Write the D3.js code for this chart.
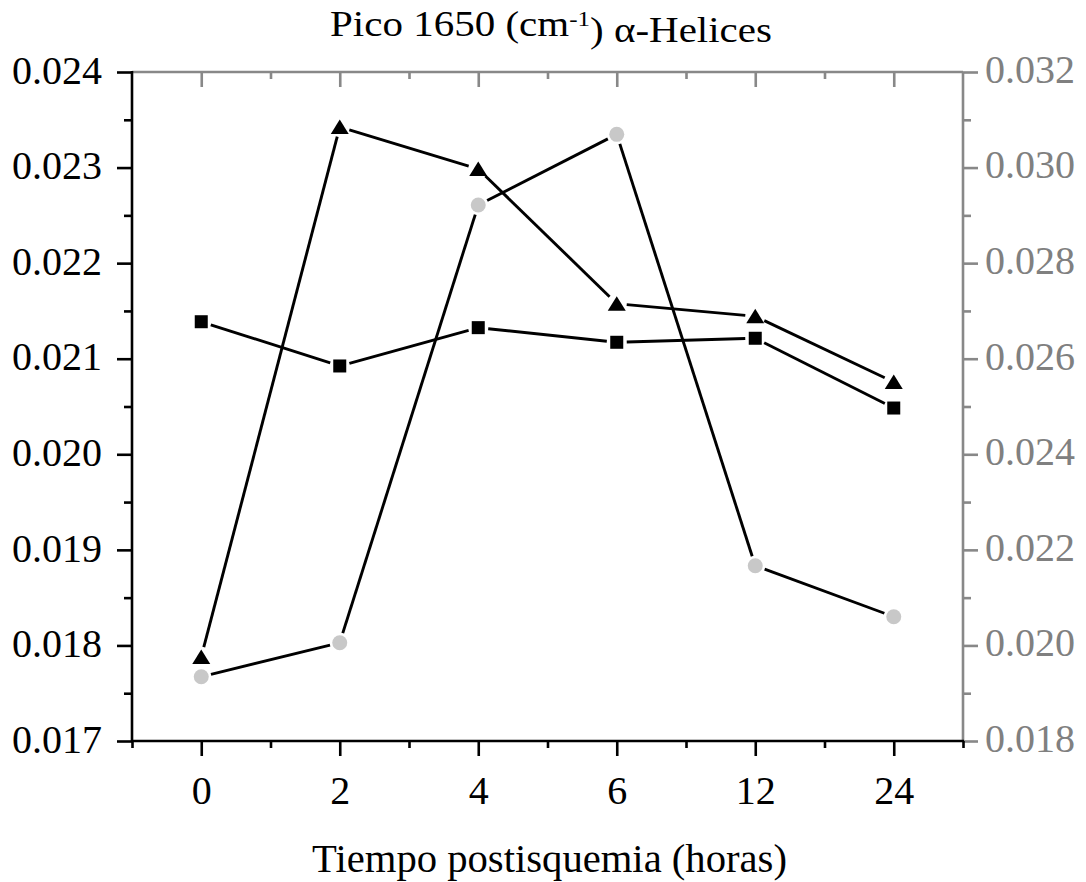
<!DOCTYPE html>
<html>
<head>
<meta charset="utf-8">
<script src="https://cdn.jsdelivr.net/npm/d3@7"></script>
<style>
  html, body { margin: 0; padding: 0; background: #fff; }
  svg { display: block; font-family: "Liberation Serif", "Times New Roman", serif; }
</style>
</head>
<body>
<svg id="chart" width="1086" height="882"></svg>
<script>
// Sampling times (hours after ischemia)
const categories = ["0", "2", "4", "6", "12", "24"];

// Left-axis series
const triangleValues = [0.01788, 0.023425, 0.022985, 0.021576, 0.021444, 0.020756];
const squareValues   = [0.021387, 0.020924, 0.021325, 0.021172, 0.021214, 0.020484];
// Right-axis series
const circleValues   = [0.019345, 0.020057, 0.029216, 0.030695, 0.021668, 0.020601];

// Axis ticks
const leftTicks  = [0.017, 0.018, 0.019, 0.020, 0.021, 0.022, 0.023, 0.024];
const rightTicks = [0.018, 0.020, 0.022, 0.024, 0.026, 0.028, 0.030, 0.032];

const titleText = "Pico 1650 (cm";
const xLabelText = "Tiempo postisquemia (horas)";

(function () {
  const svg = d3.select("#chart");
  const plotL = 132, plotR = 963, plotT = 72, plotB = 741;
  const black = "#000", grey = "#888888", greyText = "#808080", dotFill = "#c8c8c8";
  const axisW = 2.6, fontSize = 40;

  const x = d3.scaleLinear().domain([-0.5, categories.length - 0.5]).range([plotL, plotR]);
  const yL = d3.scaleLinear().domain([0.017, 0.024]).range([plotB, plotT]);
  const yR = d3.scaleLinear().domain([0.018, 0.032]).range([plotB, plotT]);

  const majorIdx = d3.range(categories.length);
  const minorIdx = d3.range(categories.length + 1).map(i => i - 0.5);

  function styleAxis(g, color) {
    g.select(".domain").remove();
    g.selectAll("line").attr("stroke", color).attr("stroke-width", axisW);
    g.selectAll("text").attr("fill", color === black ? black : greyText)
      .style("font-size", fontSize + "px").style("font-family", "'Liberation Serif', serif");
  }

  // Top axis (grey, inward ticks)
  svg.append("g").attr("transform", `translate(0,${plotT})`)
    .call(d3.axisBottom(x).tickValues(majorIdx).tickSize(15).tickFormat(""))
    .call(g => styleAxis(g, grey));
  svg.append("g").attr("transform", `translate(0,${plotT})`)
    .call(d3.axisBottom(x).tickValues(minorIdx.slice(1, -1)).tickSize(7).tickFormat(""))
    .call(g => styleAxis(g, grey));

  // Right axis (grey)
  const rMinor = d3.range(0.019, 0.032, 0.002);
  svg.append("g").attr("transform", `translate(${plotR},0)`)
    .call(d3.axisRight(yR).tickValues(rMinor).tickSize(8).tickFormat(""))
    .call(g => styleAxis(g, grey));
  svg.append("g").attr("transform", `translate(${plotR},0)`)
    .call(d3.axisRight(yR).tickValues(rightTicks).tickSize(15).tickPadding(7).tickFormat(d3.format(".3f")))
    .call(g => styleAxis(g, grey))
    .call(g => g.selectAll("text").attr("dy", "0.26em"));
  svg.append("line").attr("x1", plotR).attr("x2", plotR).attr("y1", plotT).attr("y2", plotB)
    .attr("stroke", grey).attr("stroke-width", axisW);
  svg.append("line").attr("x1", plotL).attr("x2", plotR).attr("y1", plotT).attr("y2", plotT)
    .attr("stroke", grey).attr("stroke-width", axisW);

  // Left axis (black)
  const lMinor = d3.range(0.0175, 0.024, 0.001);
  svg.append("g").attr("transform", `translate(${plotL},0)`)
    .call(d3.axisLeft(yL).tickValues(lMinor).tickSize(8).tickFormat(""))
    .call(g => styleAxis(g, black));
  svg.append("g").attr("transform", `translate(${plotL},0)`)
    .call(d3.axisLeft(yL).tickValues(leftTicks).tickSize(15).tickPadding(15).tickFormat(d3.format(".3f")))
    .call(g => styleAxis(g, black))
    .call(g => g.selectAll("text").attr("dy", "0.28em"));

  // Bottom axis (black)
  svg.append("g").attr("transform", `translate(0,${plotB})`)
    .call(d3.axisBottom(x).tickValues(minorIdx).tickSize(7).tickFormat(""))
    .call(g => styleAxis(g, black));
  svg.append("g").attr("transform", `translate(0,${plotB})`)
    .call(d3.axisBottom(x).tickValues(majorIdx).tickSize(15).tickPadding(20).tickFormat(i => categories[i]))
    .call(g => styleAxis(g, black));

  svg.append("line").attr("x1", plotL).attr("x2", plotL).attr("y1", plotT - 1).attr("y2", plotB + 1)
    .attr("stroke", black).attr("stroke-width", axisW);
  svg.append("line").attr("x1", plotL - 1).attr("x2", plotR + 1).attr("y1", plotB).attr("y2", plotB)
    .attr("stroke", black).attr("stroke-width", axisW);

  // Connecting lines, trimmed short of each marker
  const gap = 10;
  function drawSeries(values, yScale) {
    const pts = values.map((v, i) => [x(i), yScale(v)]);
    const segs = [];
    for (let i = 0; i < pts.length - 1; i++) {
      const [x0, y0] = pts[i], [x1, y1] = pts[i + 1];
      const len = Math.hypot(x1 - x0, y1 - y0);
      const ux = (x1 - x0) / len, uy = (y1 - y0) / len;
      segs.push([x0 + ux * gap, y0 + uy * gap, x1 - ux * gap, y1 - uy * gap]);
    }
    svg.append("g").selectAll("line").data(segs).join("line")
      .attr("x1", d => d[0]).attr("y1", d => d[1])
      .attr("x2", d => d[2]).attr("y2", d => d[3])
      .attr("stroke", black).attr("stroke-width", 2.9).attr("stroke-linecap", "butt");
    return pts;
  }

  const triPts = drawSeries(triangleValues, yL);
  const sqPts = drawSeries(squareValues, yL);
  const cirPts = drawSeries(circleValues, yR);

  // Markers
  svg.append("g").selectAll("rect").data(sqPts).join("rect")
    .attr("x", d => d[0] - 6.5).attr("y", d => d[1] - 6.5)
    .attr("width", 13).attr("height", 13).attr("fill", black);
  svg.append("g").selectAll("path").data(triPts).join("path")
    .attr("d", d => `M${d[0]},${d[1] - 7.5}L${d[0] + 9},${d[1] + 7}L${d[0] - 9},${d[1] + 7}Z`)
    .attr("fill", black);
  svg.append("g").selectAll("circle").data(cirPts).join("circle")
    .attr("cx", d => d[0]).attr("cy", d => d[1]).attr("r", 7.5).attr("fill", dotFill);

  // Fit a text element to a target width by horizontal scaling
  function fitText(sel, cx, baseline, targetW) {
    const w = sel.node().getBBox().width;
    sel.attr("transform", `translate(${cx},${baseline}) scale(${targetW / w},1)`);
  }

  // Title
  const title = svg.append("text").attr("text-anchor", "middle")
    .style("font-size", "36px").attr("fill", black);
  title.append("tspan").text(titleText);
  title.append("tspan").attr("dy", "-0.45em").style("font-size", "22px").text("-1");
  title.append("tspan").attr("dy", "0.45em").text(") α-Helices");
  fitText(title, 551, 36, 442);

  // X axis label
  const xl = svg.append("text").attr("text-anchor", "middle")
    .style("font-size", "41px").attr("fill", black).text(xLabelText);
  fitText(xl, 549.5, 872, 475);
})();
</script>
</body>
</html>
